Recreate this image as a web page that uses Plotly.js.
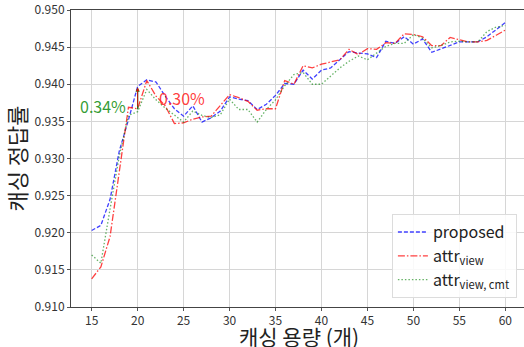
<!DOCTYPE html>
<html>
<head>
<meta charset="utf-8">
<script src="https://cdn.plot.ly/plotly-3.0.1.min.js"></script>
<style>
  html, body { margin: 0; padding: 0; overflow: hidden; background: #fff; }
  #chart { width: 526px; height: 347px; }
</style>
</head>
<body>
<div id="chart"></div>
<script>
// Cache capacity (number of items)
const capacity = [15,16,17,18,19,20,21,22,23,24,25,26,27,28,29,30,31,32,33,34,35,36,37,
                  38,39,40,41,42,43,44,45,46,47,48,49,50,51,52,53,54,55,56,57,58,59,60];

// Cache hit accuracy per method
const proposed = [0.9203,0.9210,0.9245,0.9310,0.9352,0.9397,0.9406,0.9403,0.9384,0.9367,0.9357,0.9371,0.9349,
                  0.9355,0.9364,0.9383,0.9380,0.9378,0.9366,0.9373,0.9385,0.9401,0.9400,
                  0.9419,0.9407,0.9419,0.9422,0.9433,0.9444,0.9442,0.9441,0.9436,0.9458,0.9455,0.9464,
                  0.9454,0.9461,0.9443,0.9448,0.9452,0.9457,0.9457,0.9457,0.9464,0.9473,0.9483];
const attrView = [0.9138,0.9154,0.9195,0.9280,0.9369,0.9367,0.9405,0.9384,0.9371,0.9347,0.9348,0.9353,0.9356,
                  0.9357,0.9371,0.9386,0.9382,0.9377,0.9365,0.9367,0.9367,0.9405,0.9400,
                  0.9425,0.9422,0.9427,0.9430,0.9433,0.9447,0.9440,0.9448,0.9447,0.9456,0.9455,0.9468,
                  0.9467,0.9464,0.9452,0.9452,0.9463,0.9460,0.9457,0.9457,0.9459,0.9466,0.9473];
const attrViewCmt = [0.9170,0.9159,0.9232,0.9303,0.9358,0.9363,0.9393,0.9379,0.9368,0.9359,0.9349,0.9364,0.9358,
                     0.9355,0.9359,0.9380,0.9366,0.9366,0.9349,0.9366,0.9379,0.9398,0.9413,
                     0.9416,0.9400,0.9400,0.9411,0.9422,0.9431,0.9438,0.9433,0.9442,0.9451,0.9455,0.9455,
                     0.9467,0.9462,0.9449,0.9452,0.9457,0.9458,0.9457,0.9457,0.9471,0.9477,0.9479];

const seriesNames = ['proposed', 'attr<sub>view</sub>', 'attr<sub>view, cmt</sub>'];
const xTicks = [15,20,25,30,35,40,45,50,55,60];
const yTicks = [0.910,0.915,0.920,0.925,0.930,0.935,0.940,0.945,0.950];
const xTitle = '캐싱 용량 (개)';
const yTitle = '캐싱 정답률';

// Capacity at which the gap to each baseline is highlighted
const gapAt = 20;

const BLUE = 'rgba(0,0,255,0.75)';
const RED = 'rgba(255,0,0,0.75)';
const GREEN = 'rgba(0,128,0,0.6)';
const GREEN_TXT = 'rgba(40,150,40,0.95)';
const RED_TXT = 'rgba(255,40,40,0.9)';

const FONT = '"Noto Sans CJK KR", "Noto Sans", sans-serif';

const traces = [
  { x: capacity, y: proposed, name: seriesNames[0], mode: 'lines',
    line: { color: BLUE, width: 1.3, dash: '4px,2px' } },
  { x: capacity, y: attrView, name: seriesNames[1], mode: 'lines',
    line: { color: RED, width: 1.3, dash: '7px,2px,1.5px,2px' } },
  { x: capacity, y: attrViewCmt, name: seriesNames[2], mode: 'lines',
    line: { color: GREEN, width: 1.3, dash: '1.5px,2px' } }
];

const i = capacity.indexOf(gapAt);
const gapCmt = ((proposed[i] - attrViewCmt[i]) * 100).toFixed(2) + '%';
const gapView = ((proposed[i] - attrView[i]) * 100).toFixed(2) + '%';

const annotations = [
  // gap arrows from each baseline up to the proposed value
  { x: gapAt, y: proposed[i], ax: gapAt, ay: attrViewCmt[i], xref: 'x', yref: 'y',
    axref: 'x', ayref: 'y', text: '', showarrow: true, arrowhead: 2, arrowsize: 0.7,
    arrowwidth: 1.2, arrowcolor: '#1f6f1f', standoff: 1, startstandoff: 1 },
  { x: gapAt, y: proposed[i], ax: gapAt, ay: attrView[i], xref: 'x', yref: 'y',
    axref: 'x', ayref: 'y', text: '', showarrow: true, arrowhead: 2, arrowsize: 0.7,
    arrowwidth: 1.0, arrowcolor: RED, standoff: 1, startstandoff: 1 },
  { x: 16.23, y: 0.93713, xref: 'x', yref: 'y', text: gapCmt, showarrow: false,
    font: { family: FONT, size: 16, color: GREEN_TXT } },
  { x: 24.78, y: 0.93821, xref: 'x', yref: 'y', text: gapView, showarrow: false,
    font: { family: FONT, size: 16, color: RED_TXT } },
  // x-axis title, set below the tick labels
  { x: 0.5, y: -0.096, xref: 'paper', yref: 'paper', xanchor: 'center', yanchor: 'middle',
    text: xTitle, showarrow: false, font: { family: FONT, size: 21, color: '#222' } }
];

const axisCommon = {
  showline: true, linecolor: '#444', linewidth: 1, mirror: true,
  showgrid: true, gridcolor: '#d6d6d6', gridwidth: 1.2,
  ticks: 'outside', ticklen: 3, tickcolor: '#555', tickwidth: 1,
  tickfont: { family: FONT, size: 12, color: '#333' },
  zeroline: false
};

const layout = {
  width: 526, height: 347,
  margin: { l: 71, r: 0, t: 10, b: 40 },
  paper_bgcolor: '#fff', plot_bgcolor: '#fff',
  font: { family: FONT, color: '#333' },
  xaxis: Object.assign({}, axisCommon, {
    range: [12.75, 62.25], tickmode: 'array', tickvals: xTicks,
    ticktext: xTicks.map(String)
  }),
  yaxis: Object.assign({}, axisCommon, {
    range: [0.910, 0.950], tickmode: 'array', tickvals: yTicks,
    ticktext: yTicks.map(v => v.toFixed(3)),
    title: { text: yTitle, font: { family: FONT, size: 22, color: '#222' }, standoff: 4 }
  }),
  legend: {
    x: 0.98, y: 0.03, xanchor: 'right', yanchor: 'bottom',
    bgcolor: 'rgba(255,255,255,0.85)', bordercolor: '#dcdcdc', borderwidth: 1,
    font: { family: FONT, size: 16, color: '#222' },
    tracegroupgap: 0, itemwidth: 30
  },
  annotations: annotations,
  showlegend: true
};

Plotly.newPlot('chart', traces, layout, { staticPlot: true, displayModeBar: false });
</script>
</body>
</html>
